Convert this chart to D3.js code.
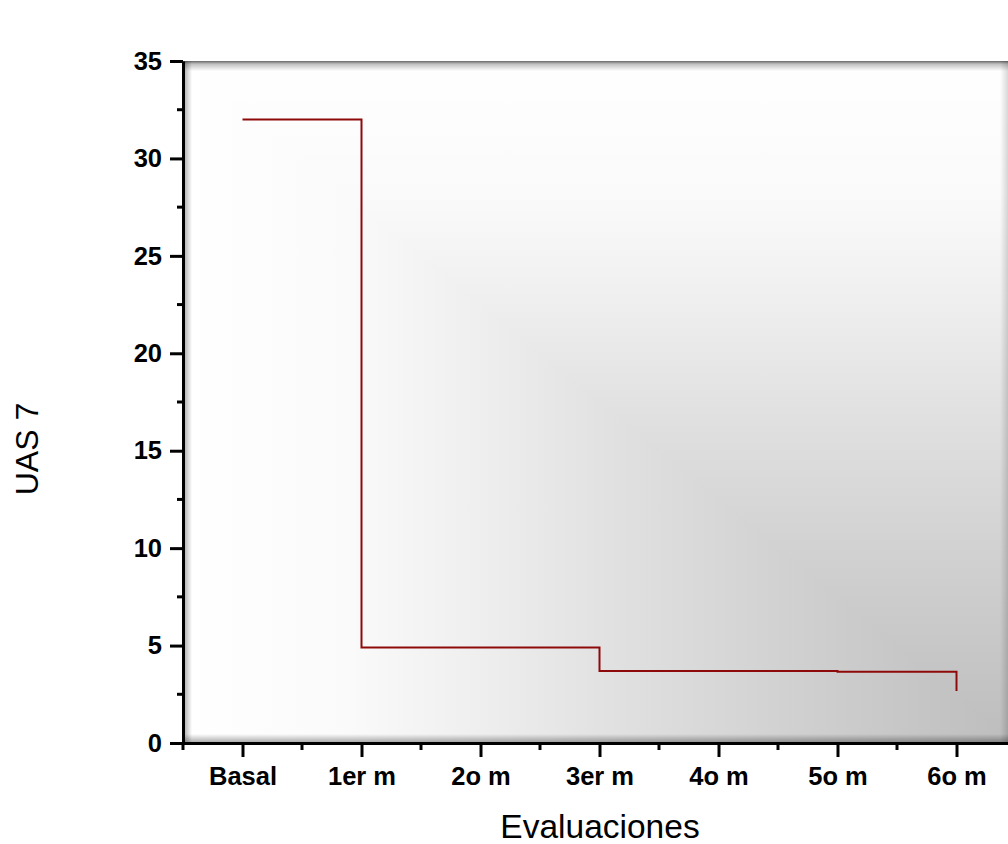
<!DOCTYPE html>
<html>
<head>
<meta charset="utf-8">
<script src="https://cdn.jsdelivr.net/npm/d3@7"></script>
<style>
  body { margin: 0; background: #fff; }
  svg { display: block; }
</style>
</head>
<body>
<div id="chart"></div>
<script>
// data
const categories = ["Basal", "1er m", "2o m", "3er m", "4o m", "5o m", "6o m"];
const uas7 = [32, 4.9, 4.9, 3.7, 3.7, 3.66, 2.67];
const yTicks = [0, 5, 10, 15, 20, 25, 30, 35];

const width = 1008, height = 844;
const margin = { top: 61, right: -8, bottom: 101, left: 183 };

const svg = d3.select("#chart").append("svg")
  .attr("width", width)
  .attr("height", height);

const x = d3.scaleLinear()
  .domain([-0.5, categories.length - 0.5])
  .range([margin.left, width - margin.right]);

const y = d3.scaleLinear()
  .domain([0, 35])
  .range([height - margin.bottom, margin.top]);

const defs = svg.append("defs");

// background shading: white at left/top, grey toward bottom-right
const stops = [[0, "#ffffff"], [0.2, "#fafafa"], [0.35, "#efefef"], [0.5, "#e2e2e2"], [0.75, "#cfcfcf"], [1, "#bdbdbd"]];
function grad(id, x1, y1, x2, y2, st) {
  const g = defs.append("linearGradient").attr("id", id)
    .attr("x1", x1).attr("y1", y1).attr("x2", x2).attr("y2", y2);
  st.forEach(s => g.append("stop").attr("offset", s[0]).attr("stop-color", s[1]).attr("stop-opacity", s[2] == null ? 1 : s[2]));
}
grad("bgx", 0, 0, 1, 0, stops);
grad("bgy", 0, 0, 0, 1, stops);
grad("shTop", 0, 0, 0, 1, [[0, "#000", 0.6], [0.3, "#000", 0.25], [1, "#000", 0]]);
grad("shLeft", 0, 0, 1, 0, [[0, "#000", 0.35], [1, "#000", 0]]);
grad("shBottom", 0, 1, 0, 0, [[0, "#000", 0.35], [1, "#000", 0]]);
grad("shRight", 1, 0, 0, 0, [[0, "#000", 0.15], [1, "#000", 0]]);

const px0 = x(-0.5), px1 = x(categories.length - 0.5);
const py0 = y(35), py1 = y(0);

const bg = svg.append("g").attr("class", "bg").style("isolation", "isolate");
bg.append("rect")
  .attr("x", px0).attr("y", py0).attr("width", px1 - px0).attr("height", py1 - py0)
  .attr("fill", "url(#bgx)");
bg.append("rect")
  .attr("x", px0).attr("y", py0).attr("width", px1 - px0).attr("height", py1 - py0)
  .attr("fill", "url(#bgy)")
  .style("mix-blend-mode", "lighten");

// inner shadows of the frame
svg.append("rect").attr("x", px0).attr("y", py0).attr("width", px1 - px0).attr("height", 10).attr("fill", "url(#shTop)");
svg.append("rect").attr("x", px0).attr("y", py0).attr("width", 9).attr("height", py1 - py0).attr("fill", "url(#shLeft)");
svg.append("rect").attr("x", px0).attr("y", py1 - 9).attr("width", px1 - px0).attr("height", 9).attr("fill", "url(#shBottom)");
svg.append("rect").attr("x", 1000).attr("y", py0).attr("width", 8).attr("height", py1 - py0).attr("fill", "url(#shRight)");

// step line
const line = d3.line()
  .x((d, i) => x(i))
  .y(d => y(d))
  .curve(d3.curveStepAfter);

svg.append("path")
  .datum(uas7)
  .attr("d", line)
  .attr("fill", "none")
  .attr("stroke", "#8e0a0a")
  .attr("stroke-width", 2);

// y axis
const yAxis = svg.append("g").attr("transform", `translate(${px0},0)`)
  .call(d3.axisLeft(y).tickValues(yTicks).tickSize(13).tickPadding(8).tickSizeOuter(0));
yAxis.append("g").selectAll("line")
  .data(d3.range(2.5, 35, 5))
  .join("line")
  .attr("x1", -6).attr("x2", 0)
  .attr("y1", d => y(d)).attr("y2", d => y(d))
  .attr("stroke", "#000").attr("stroke-width", 3);

// x axis
const xAxis = svg.append("g").attr("transform", `translate(0,${py1})`)
  .call(d3.axisBottom(x).tickValues(d3.range(categories.length))
    .tickFormat(i => categories[i]).tickSize(14).tickPadding(10).tickSizeOuter(0));
xAxis.append("g").selectAll("line")
  .data(d3.range(-0.5, categories.length, 1))
  .join("line")
  .attr("x1", d => x(d)).attr("x2", d => x(d))
  .attr("y1", 0).attr("y2", 7)
  .attr("stroke", "#000").attr("stroke-width", 3);

[yAxis, xAxis].forEach(a => {
  a.select(".domain").attr("stroke", "#000").attr("stroke-width", 3);
  a.selectAll(".tick line").attr("stroke", "#000").attr("stroke-width", 3);
  a.selectAll(".tick text")
    .attr("fill", "#000")
    .style("font-family", "Liberation Sans, Arial, sans-serif")
    .style("font-weight", "bold")
    .style("font-size", "25.5px");
});

// axis titles
svg.append("text")
  .attr("x", 600).attr("y", 838)
  .attr("text-anchor", "middle")
  .style("font-family", "Liberation Sans, Arial, sans-serif")
  .style("font-size", "33.5px")
  .text("Evaluaciones");

svg.append("text")
  .attr("transform", "translate(38,449) rotate(-90)")
  .attr("text-anchor", "middle")
  .style("font-family", "Liberation Sans, Arial, sans-serif")
  .style("font-size", "32px")
  .text("UAS 7");
</script>
</body>
</html>
